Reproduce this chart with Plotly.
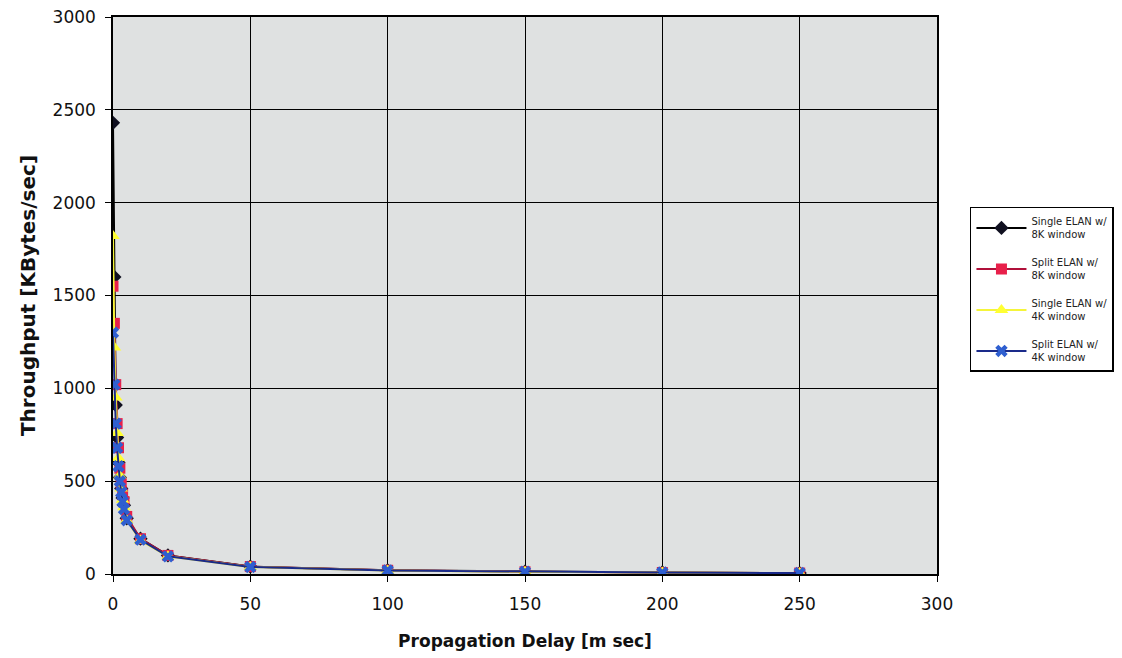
import plotly.graph_objects as go

delay = [0, 0.5, 1, 1.5, 2, 2.5, 3, 3.5, 4, 5, 10, 20, 50, 100, 150, 200, 250]

single_8k = [2430, 1600, 910, 735, 600, 520, 460, 410, 370, 300, 190, 100, 40, 20, 12, 8, 5]
split_8k = [1550, 1350, 1020, 810, 680, 570, 490, 430, 390, 310, 190, 100, 40, 20, 12, 8, 5]
single_4k = [1820, 1220, 950, 760, 625, 530, 460, 400, 360, 290, 180, 95, 38, 19, 12, 8, 5]
split_4k = [1300, 1020, 810, 680, 580, 500, 440, 390, 350, 290, 185, 95, 38, 19, 12, 8, 5]

names = ["Single ELAN w/<br>8K window", "Split ELAN w/<br>8K window",
         "Single ELAN w/<br>4K window", "Split ELAN w/<br>4K window"]

series = [single_8k, split_8k, single_4k, split_4k]
line_colors = ["#000000", "#b0103a", "#f5f53a", "#1a2a8a"]
marker_colors = ["#101020", "#e8204a", "#ffff33", "#2f5fd0"]
symbols = ["diamond", "square", "triangle-up", "x"]
sizes = [11, 11, 12, 11]

fig = go.Figure()
for i, (ys, nm, lc, mc, sym, sz) in enumerate(zip(series, names, line_colors, marker_colors, symbols, sizes)):
    fig.add_trace(go.Scatter(
        x=delay, y=ys, name=nm, mode="lines+markers", legendgroup=f"g{i}",
        line=dict(color=lc, width=2),
        marker=dict(symbol=sym, size=sz, color=mc, line=dict(width=0)),
    ))

tick_font = dict(family="DejaVu Sans, sans-serif", size=17, color="#111111")

fig.update_layout(
    width=1122, height=658,
    margin=dict(l=105, r=193, t=9, b=92, autoexpand=False),
    paper_bgcolor="#ffffff",
    plot_bgcolor="#dfe1e1",
    showlegend=True,
    legend=dict(
        x=1.04, y=0.659, xanchor="left", yanchor="top",
        bgcolor="#ffffff", bordercolor="#000000", borderwidth=1.5,
        font=dict(family="DejaVu Sans, sans-serif", size=10, color="#222222"),
        itemwidth=50, tracegroupgap=12,
    ),
    xaxis=dict(
        range=[0, 300], tickvals=[0, 50, 100, 150, 200, 250, 300],
        showgrid=True, gridcolor="#000000", gridwidth=1,
        showline=True, linecolor="#000000", linewidth=1.5, mirror=True,
        ticks="outside", ticklen=6, tickcolor="#000000", ticklabelstandoff=8,
        tickfont=tick_font, zeroline=False, ticklabeloverflow="allow",
        title=dict(text="<b>Propagation Delay [m sec]</b>",
                   font=dict(family="DejaVu Sans, sans-serif", size=17, color="#111111"),
                   standoff=22),
    ),
    yaxis=dict(
        range=[0, 3000], tickvals=[0, 500, 1000, 1500, 2000, 2500, 3000],
        showgrid=True, gridcolor="#000000", gridwidth=1,
        showline=True, linecolor="#000000", linewidth=1.5, mirror=True,
        ticks="outside", ticklen=6, tickcolor="#000000", ticklabelstandoff=6,
        tickfont=tick_font, zeroline=False, ticklabeloverflow="allow",
        title=dict(text="<b>Throughput [KBytes/sec]</b>",
                   font=dict(family="DejaVu Sans, sans-serif", size=20, color="#111111"),
                   standoff=12),
    ),
)

fig.write_html("out.html")
